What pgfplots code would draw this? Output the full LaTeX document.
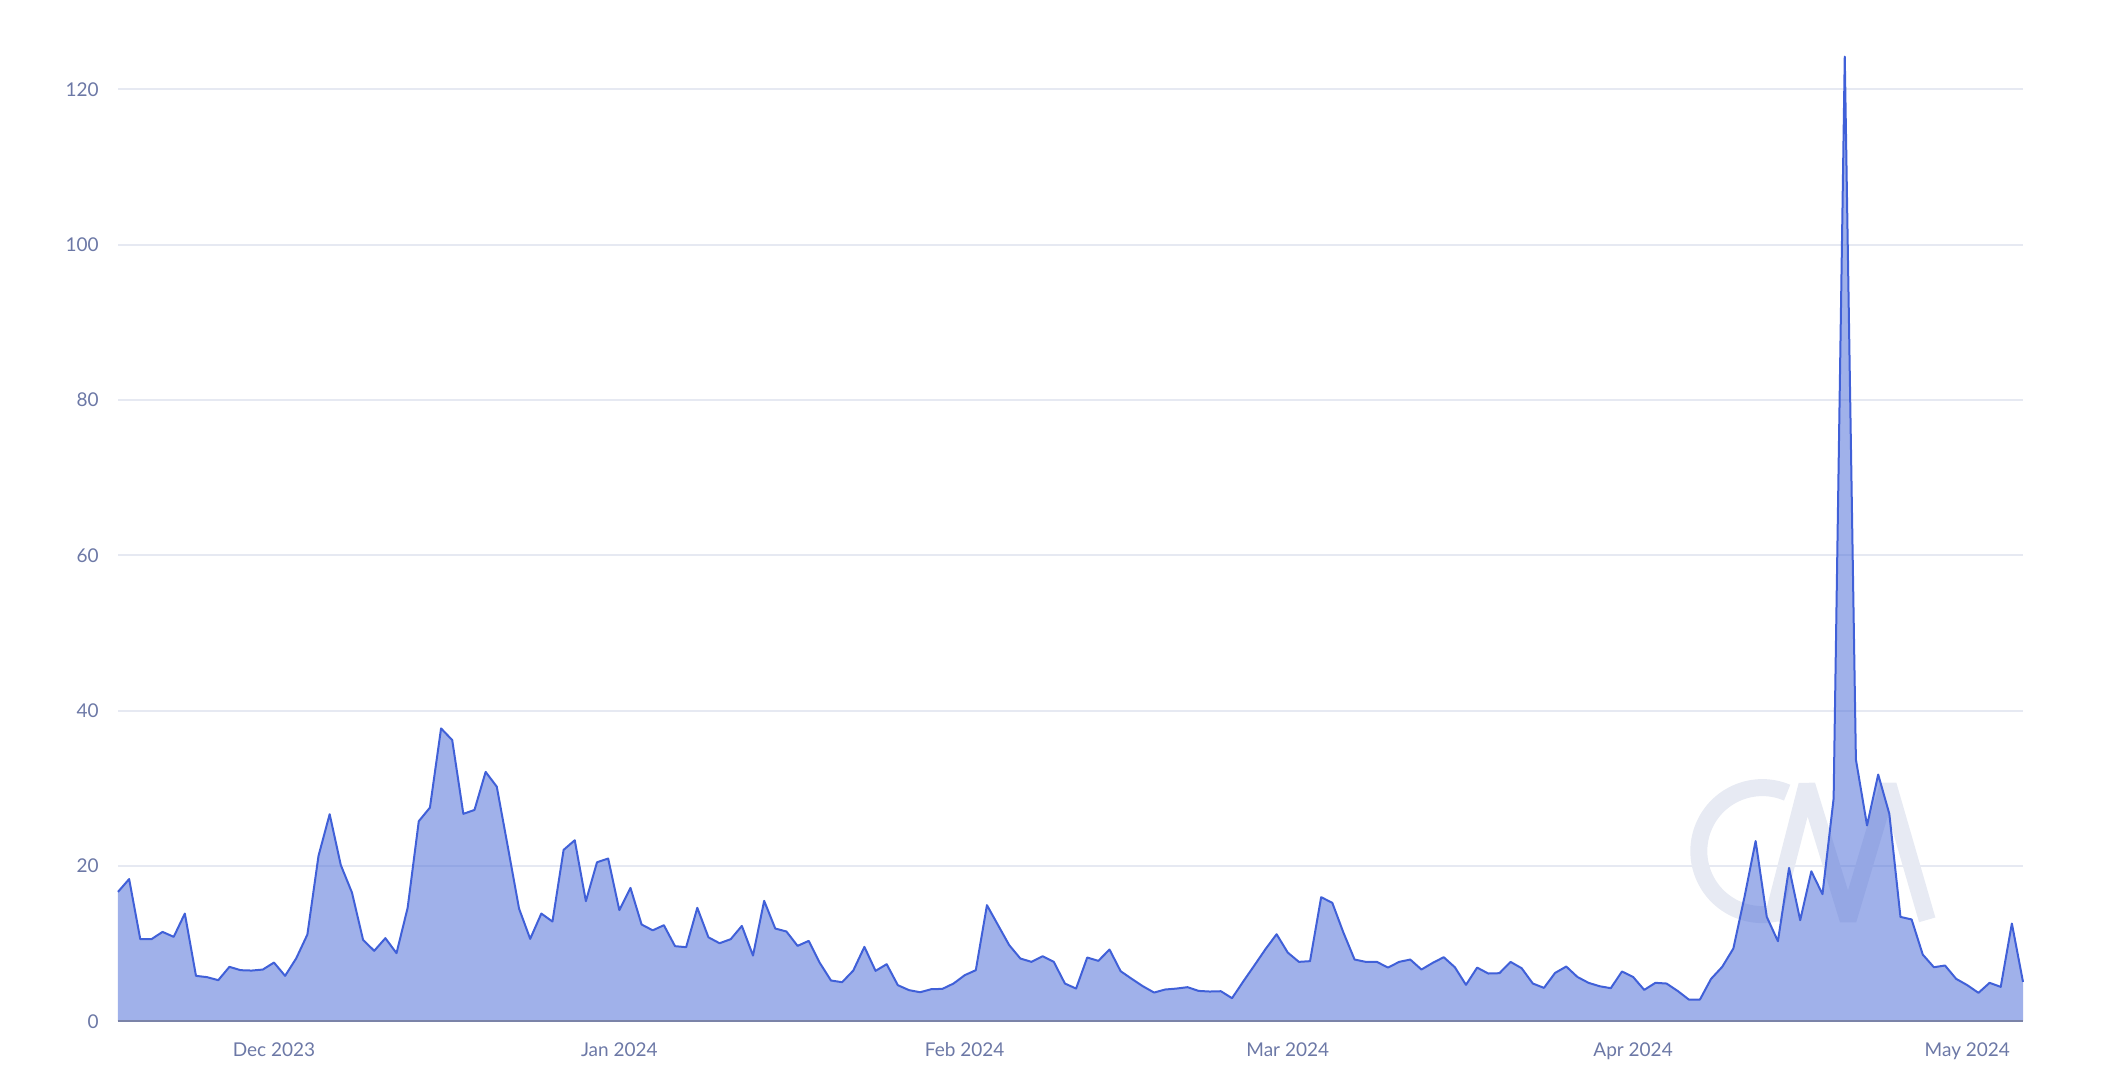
\documentclass[border=0pt]{standalone}
\usepackage{fontspec}
\setmainfont{Lato}
\usepackage{pgfplots}
\pgfplotsset{compat=1.18}
\usepackage{pgfplotstable}

\definecolor{gridcol}{HTML}{E6E9F2}
\definecolor{axiscol}{HTML}{7B83A8}
\definecolor{labelcol}{HTML}{6C78A6}
\definecolor{areacol}{HTML}{5271D9}
\definecolor{linecol}{HTML}{4060D8}
\definecolor{wmcol}{HTML}{E7EAF3}

% daily values, day 0 = 17 Nov 2023
\pgfplotstableread{
day val
0 16.65
1 18.3
2 10.56
3 10.56
4 11.5
5 10.86
6 13.86
7 5.84
8 5.67
9 5.28
10 7.0
11 6.57
12 6.52
13 6.65
14 7.55
15 5.84
16 8.1
17 11.16
18 21.3
19 26.65
20 20.1
21 16.57
22 10.47
23 9.06
24 10.69
25 8.76
26 14.6
27 25.75
28 27.5
29 37.7
30 36.2
31 26.7
32 27.2
33 32.1
34 30.2
35 22.4
36 14.5
37 10.6
38 13.86
39 12.83
40 22.06
41 23.3
42 15.45
43 20.47
44 20.94
45 14.3
46 17.17
47 12.45
48 11.7
49 12.36
50 9.66
51 9.53
52 14.6
53 10.8
54 10.04
55 10.56
56 12.27
57 8.45
58 15.5
59 11.93
60 11.55
61 9.7
62 10.34
63 7.5
64 5.24
65 5.02
66 6.52
67 9.57
68 6.48
69 7.34
70 4.64
71 4.0
72 3.73
73 4.12
74 4.16
75 4.85
76 5.92
77 6.57
78 14.94
79 12.36
80 9.79
81 8.07
82 7.64
83 8.37
84 7.64
85 4.85
86 4.2
87 8.2
88 7.77
89 9.23
90 6.44
91 5.45
92 4.5
93 3.69
94 4.08
95 4.2
96 4.38
97 3.9
98 3.82
99 3.86
100 2.96
101 5.1
102 7.17
103 9.27
104 11.2
105 8.84
106 7.64
107 7.73
108 15.97
109 15.24
110 11.4
111 7.94
112 7.64
113 7.64
114 6.9
115 7.64
116 7.94
117 6.65
118 7.5
119 8.24
120 6.95
121 4.68
122 6.9
123 6.14
124 6.18
125 7.64
126 6.82
127 4.85
128 4.29
129 6.22
130 7.04
131 5.7
132 4.94
133 4.5
134 4.25
135 6.4
136 5.7
137 4.03
138 4.94
139 4.85
140 3.9
141 2.79
142 2.79
143 5.45
144 7.0
145 9.36
146 16.0
147 23.2
148 13.43
149 10.3
150 19.74
151 13.0
152 19.3
153 16.35
154 28.67
155 124.2
156 33.7
157 25.2
158 31.76
159 26.7
160 13.43
161 13.1
162 8.58
163 6.95
164 7.17
165 5.45
166 4.64
167 3.65
168 4.94
169 4.42
170 12.58
171 5.06
}\volume

\begin{document}
\begin{tikzpicture}
  \path[use as bounding box] (-59bp,-27.85bp) rectangle (996bp,510.6bp);
  \begin{axis}[
      scale only axis,
      width  = 952.5bp,
      height = 485.4bp,
      xmin = 0, xmax = 171,
      ymin = 0, ymax = 125,
      axis line style = {draw=none},
      tick style = {draw=none},
      major tick length = 0pt,
      ytick = {0,20,...,120},
      xtick = {14,45,76,105,136,166},
      xticklabels = {Dec 2023, Jan 2024, Feb 2024, Mar 2024, Apr 2024, May 2024},
      ymajorgrids,
      grid style = {gridcol, line width=1bp},
      font = \fontsize{9.5bp}{11bp}\selectfont,
      tick label style = {labelcol},
      /pgf/number format/assume math mode=true,
      yticklabel style = {anchor=east, inner sep=0pt, xshift=-9.5bp},
      xticklabel style = {anchor=north, inner sep=0pt, yshift=-10.7bp},
      clip = false,
    ]
    % watermark
    \draw[wmcol, line width=8.5bp] (axis cs:147.6,21.9) ++(67:31.75bp)
      arc[start angle=67, end angle=287, radius=31.75bp];
    \draw[wmcol, line width=8.5bp, line join=bevel]
      (axis cs:148.5,13.05) -- (axis cs:151.6,30.4) -- (axis cs:155.3,13.05)
      -- (axis cs:158.9,30.4) -- (axis cs:162.4,13.05);

    \addplot[draw=none, fill=areacol, fill opacity=0.55] table[x=day, y=val] {\volume} \closedcycle;
    \addplot[linecol, line width=1bp, line join=round] table[x=day, y=val] {\volume};
    \draw[axiscol, line width=0.8bp] (axis cs:0,0) -- (axis cs:171,0);
  \end{axis}
\end{tikzpicture}
\end{document}
